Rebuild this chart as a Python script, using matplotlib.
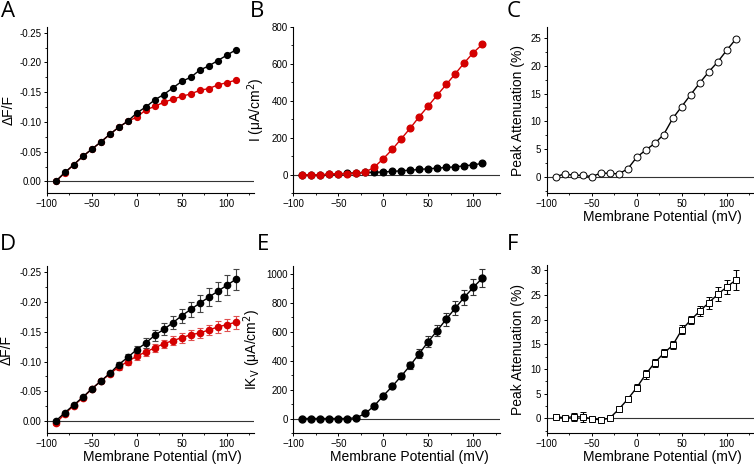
import numpy as np
import matplotlib
matplotlib.use("Agg")
import matplotlib.pyplot as plt
from matplotlib.ticker import MultipleLocator, AutoMinorLocator

plt.rcParams['font.family'] = ['Liberation Sans', 'DejaVu Sans']

# membrane potential steps (mV)
volts = list(range(-90, 111, 10))

# panel A: dF/F, control (black) and treated (red)
dff_a_black = [0.0, -0.015, -0.028, -0.042, -0.054, -0.066, -0.079, -0.091, -0.101, -0.115, -0.125,
               -0.137, -0.146, -0.157, -0.168, -0.175, -0.187, -0.194, -0.203, -0.212, -0.221]
dff_a_red = [0.0, -0.014, -0.028, -0.042, -0.054, -0.066, -0.079, -0.091, -0.101, -0.108, -0.120,
             -0.126, -0.133, -0.138, -0.143, -0.147, -0.153, -0.156, -0.162, -0.166, -0.170]

# panel B: current density
cur_b_red = [0, 0, 0, 4, 7, 7, 9, 14, 42, 87, 138, 195, 253, 315, 373, 432, 489, 547, 606, 661, 706]
cur_b_black = [0, 0, 0, 2, 4, 8, 11, 13, 13, 16, 18, 22, 25, 29, 33, 36, 40, 43, 49, 54, 62]

# panel C: peak attenuation
atten_c = [0.0, 0.5, 0.25, 0.25, 0.0, 0.65, 0.6, 0.5, 1.4, 3.5, 4.8, 6.0, 7.6, 10.5, 12.65,
           14.8, 16.9, 18.9, 20.7, 22.8, 24.8]

# panel D: mean dF/F with errors
dff_d_black = [0.0, -0.014, -0.027, -0.040, -0.054, -0.067, -0.080, -0.095, -0.107, -0.120, -0.131,
               -0.144, -0.154, -0.165, -0.177, -0.1875, -0.198, -0.208, -0.218, -0.228, -0.238]
err_d_black = [0.002, 0.002, 0.002, 0.002, 0.002, 0.003, 0.003, 0.004, 0.005, 0.006, 0.008,
               0.009, 0.010, 0.011, 0.012, 0.013, 0.014, 0.015, 0.016, 0.017, 0.018]
dff_d_red = [0.004, -0.012, -0.026, -0.039, -0.054, -0.067, -0.079, -0.091, -0.100, -0.109, -0.116,
             -0.123, -0.130, -0.135, -0.140, -0.145, -0.148, -0.153, -0.158, -0.162, -0.166]
err_d_red = [0.002, 0.002, 0.002, 0.002, 0.002, 0.003, 0.004, 0.005, 0.006, 0.006, 0.007,
             0.007, 0.007, 0.008, 0.008, 0.008, 0.009, 0.009, 0.010, 0.010, 0.011]

# panel E: IKv current density
cur_e = [0, 0, 0, 0, 0, 0, 5, 35, 88, 157, 222, 293, 367, 448, 531, 607, 686, 762, 836, 905, 968]
err_e = [2, 2, 2, 2, 2, 2, 4, 8, 10, 12, 15, 20, 25, 30, 35, 40, 45, 50, 50, 55, 62]

# panel F: mean peak attenuation
atten_f = [0.3, 0.1, 0.3, 0.25, -0.1, -0.35, 0.0, 1.8, 3.85, 6.2, 8.9, 11.25, 13.15, 14.8, 17.9,
           19.9, 21.7, 23.4, 25.1, 26.6, 28.0]
err_f = [0.3, 0.3, 0.8, 1.0, 0.3, 0.3, 0.4, 0.5, 0.4, 0.7, 0.9, 0.8, 0.8, 0.8, 0.9, 0.8, 1.0,
         1.2, 1.4, 1.5, 2.0]

RED = '#d40000'
W, H = 754, 466
fig = plt.figure(figsize=(W / 100, H / 100), dpi=100)


def make_axes(left, top, bottom, width=207):
    ax = fig.add_axes([left / W, 1 - bottom / H, width / W, (bottom - top) / H])
    ax.spines['top'].set_visible(False)
    ax.spines['right'].set_visible(False)
    for s in ('left', 'bottom'):
        ax.spines[s].set_linewidth(0.8)
    ax.set_xlim(-100, 130)
    ax.xaxis.set_major_locator(MultipleLocator(50))
    ax.xaxis.set_minor_locator(MultipleLocator(25))
    ax.yaxis.set_minor_locator(AutoMinorLocator(2))
    ax.tick_params(which='major', direction='out', length=2.5, width=0.7, labelsize=7, pad=1.5)
    ax.tick_params(which='minor', direction='out', length=1.5, width=0.6)
    ax.axhline(0, color='#333333', lw=0.8, zorder=1)
    ax.patch.set_alpha(0)
    return ax


def ylabel(ax, text, xpos):
    ax.set_ylabel(text, fontsize=10)
    ax.yaxis.set_label_coords(xpos, 0.5)


def xlabel(ax):
    ax.set_xlabel('Membrane Potential (mV)', fontsize=10)
    ax.xaxis.set_label_coords(0.56, -0.1)
    ax.xaxis.label.set_va('top')


# A
ax = make_axes(46.7, 26.7, 193.3)
ax.plot(volts, dff_a_red, '-o', color=RED, ms=4.2, lw=1)
ax.plot(volts, dff_a_black, '-o', color='black', ms=4.2, lw=1)
ax.set_ylim(0.02, -0.26)
ax.yaxis.set_major_locator(MultipleLocator(0.05))
ax.yaxis.set_major_formatter(plt.FuncFormatter(lambda v, p: f'{v:.2f}'.replace('-0.00', '0.00')))
ylabel(ax, 'ΔF/F', -0.15)

# B
ax = make_axes(293.3, 27, 193.3)
ax.plot(volts, cur_b_black, '-o', color='black', ms=4.8, lw=1)
ax.plot(volts, cur_b_red, '-o', color=RED, ms=4.8, lw=1)
ax.set_ylim(-100, 800)
ax.yaxis.set_major_locator(MultipleLocator(200))
ylabel(ax, 'I (μA/cm$^2$)', -0.127)

# C
ax = make_axes(546.7, 27, 193.3)
ax.plot(volts, atten_c, '-o', color='black', mfc='white', mec='black', mew=0.7, ms=5, lw=1)
ax.set_ylim(-3, 27)
ax.yaxis.set_major_locator(MultipleLocator(5))
ylabel(ax, 'Peak Attenuation (%)', -0.105)
xlabel(ax)

# D
ax = make_axes(46.7, 266.3, 433)
ax.errorbar(volts, dff_d_red, yerr=err_d_red, fmt='-o', color=RED, ecolor='#e05050',
            ms=4.5, lw=1, elinewidth=0.8, capsize=2, capthick=0.8)
ax.errorbar(volts, dff_d_black, yerr=err_d_black, fmt='-o', color='black', ecolor='#444444',
            ms=4.5, lw=1, elinewidth=0.8, capsize=2, capthick=0.8)
ax.set_ylim(0.02, -0.26)
ax.yaxis.set_major_locator(MultipleLocator(0.05))
ax.yaxis.set_major_formatter(plt.FuncFormatter(lambda v, p: f'{v:.2f}'.replace('-0.00', '0.00')))
ylabel(ax, 'ΔF/F', -0.16)
xlabel(ax)

# E
ax = make_axes(293.3, 266.3, 433)
ax.errorbar(volts, cur_e, yerr=err_e, fmt='-o', color='black', ecolor='#333333',
            ms=5, lw=1, elinewidth=0.8, capsize=2, capthick=0.8)
ax.set_ylim(-100, 1050)
ax.yaxis.set_major_locator(MultipleLocator(200))
ylabel(ax, 'IK$_\\mathrm{V}$ (μA/cm$^2$)', -0.146)
xlabel(ax)

# F
ax = make_axes(546.7, 265.3, 433)
ax.errorbar(volts, atten_f, yerr=err_f, fmt='-s', color='black', mfc='white', mec='black',
            mew=0.7, ms=5, lw=1, elinewidth=0.8, capsize=2, capthick=0.8)
ax.set_ylim(-3, 31)
ax.yaxis.set_major_locator(MultipleLocator(5))
ylabel(ax, 'Peak Attenuation (%)', -0.105)
xlabel(ax)

# panel letters
for letter, x, y in [('A', 1, 1), ('B', 250, 1), ('C', 507, 1),
                     ('D', 0, 234), ('E', 257, 234), ('F', 507, 234)]:
    fig.text(x / W, 1 - y / H, letter, fontsize=16, family=['Open Sans', 'DejaVu Sans'],
             ha='left', va='top')

fig.savefig('out.png', dpi=100)
